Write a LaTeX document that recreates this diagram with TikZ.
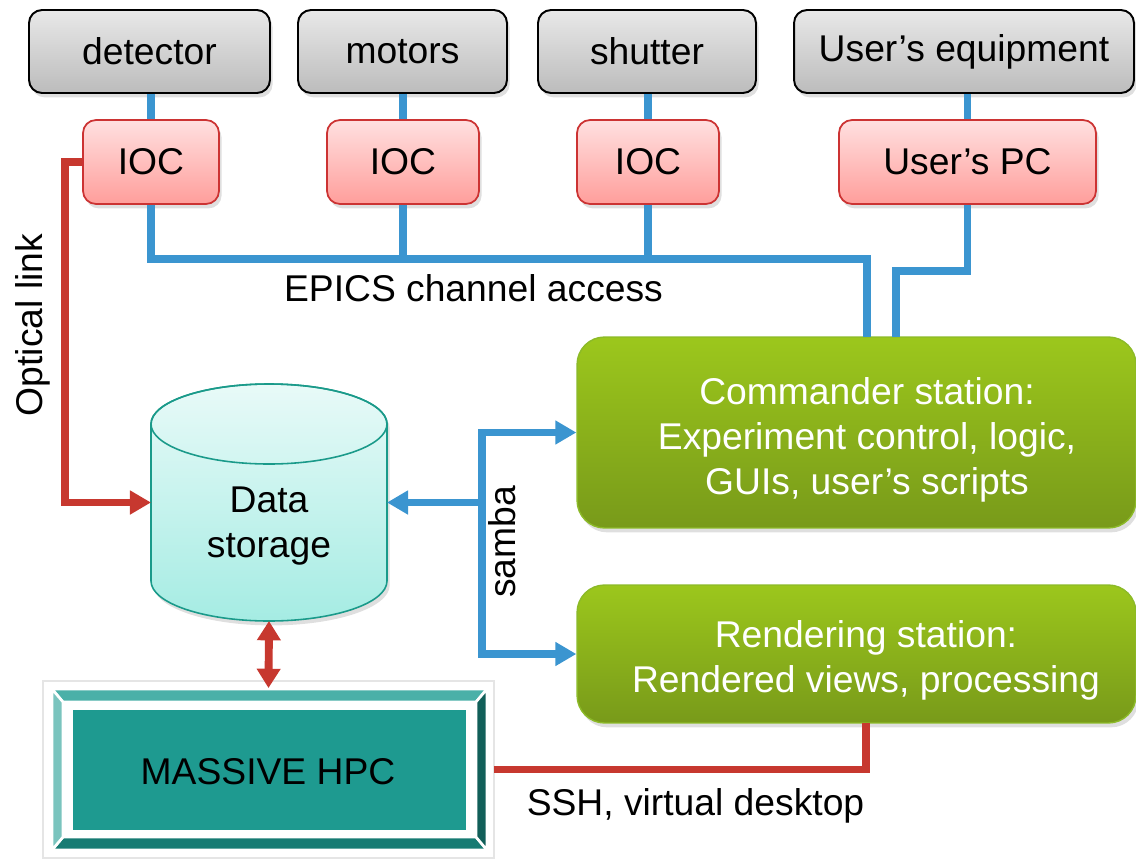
\documentclass[tikz,border=0pt]{standalone}
\usepackage{fontspec}
\setmainfont{Liberation Sans}
\usetikzlibrary{arrows.meta,shadows}
\definecolor{cblue}{RGB}{59,149,208}
\definecolor{cred}{RGB}{199,56,47}
\definecolor{graytop}{RGB}{232,232,232}
\definecolor{graybot}{RGB}{188,188,188}
\definecolor{ioctop}{RGB}{255,224,224}
\definecolor{iocbot}{RGB}{255,158,155}
\definecolor{iocborder}{RGB}{204,51,51}
\definecolor{greentop}{RGB}{156,199,28}
\definecolor{greenbot}{RGB}{120,154,26}
\definecolor{greenborder}{RGB}{140,186,40}
\definecolor{cyltop}{RGB}{232,250,248}
\definecolor{cylbot}{RGB}{165,236,227}
\definecolor{cylborder}{RGB}{26,154,138}
\definecolor{bevtop}{RGB}{74,176,168}
\definecolor{bevleft}{RGB}{122,196,190}
\definecolor{bevright}{RGB}{17,95,89}
\definecolor{bevbot}{RGB}{23,123,115}
\definecolor{hpcface}{RGB}{30,154,144}
\begin{document}
\begin{tikzpicture}[x=0.02cm,y=-0.02cm,
  font=\fontsize{21.2}{25.5}\selectfont,
  shade1/.style={drop shadow={shadow xshift=1.5pt,shadow yshift=-2.5pt,opacity=0.25}},
  graybox/.style={draw=black,line width=1.1pt,rounded corners=0.26cm,top color=graytop,bottom color=graybot,shade1,inner sep=0pt},
  iocbox/.style={draw=iocborder,line width=1pt,rounded corners=0.26cm,top color=ioctop,bottom color=iocbot,shade1,inner sep=0pt},
  greenbox/.style={draw=greenborder,line width=0.8pt,rounded corners=0.55cm,top color=greentop,bottom color=greenbot,shade1,inner sep=0pt},
  bl/.style={draw=cblue,line width=4pt},
  rl/.style={draw=cred,line width=4pt},
  tip/.style={-{Triangle[length=12pt,width=13pt]}},
  whitetext/.style={text=white,align=center},
  anchorbox/.style={inner sep=0pt,outer sep=0pt}
]
\useasboundingbox (0,0) rectangle (1136,859);

% top devices
\node[graybox,minimum width=4.82cm,minimum height=1.66cm] (det) at (149.5,51.5) {detector};
\node[graybox,minimum width=4.18cm,minimum height=1.66cm] (mot) at (402.5,51.5) {motors};
\node[graybox,minimum width=4.36cm,minimum height=1.66cm] (shu) at (647,51.5) {shutter};
\node[graybox,minimum width=6.8cm,minimum height=1.66cm] (ueq) at (964,51.5) {User’s equipment};

% IOCs
\node[iocbox,minimum width=2.72cm,minimum height=1.68cm] (ioc1) at (151,162) {IOC};
\node[iocbox,minimum width=3.04cm,minimum height=1.68cm] (ioc2) at (403,162) {IOC};
\node[iocbox,minimum width=2.84cm,minimum height=1.68cm] (ioc3) at (648,162) {IOC};
\node[iocbox,minimum width=5.14cm,minimum height=1.68cm] (pc) at (967.5,162) {User’s PC};

% stations
\node[greenbox,minimum width=11.18cm,minimum height=3.82cm] (comm) at (856.5,432.5) {};
\node[whitetext] (commtxt) at (867,440) {Commander station:\\Experiment control, logic,\\GUIs, user’s scripts};
\node[greenbox,minimum width=11.18cm,minimum height=2.76cm] (rend) at (856.5,654) {};
\node[whitetext] (rendtxt) at (866,660) {Rendering station:\\Rendered views, processing};

% data storage cylinder
\path[draw=cylborder,line width=0.9pt,top color=cyltop,bottom color=cylbot,shade1]
  (151,424) -- (151,581) arc[start angle=180,end angle=0,x radius=118,y radius=40]
  -- (387,424) arc[start angle=0,end angle=-180,x radius=118,y radius=40] -- cycle;
\draw[cylborder,line width=0.9pt] (269,424) ellipse[x radius=118,y radius=40];
\node[anchorbox,minimum width=4.72cm,minimum height=4.74cm] (ds) at (269,502.5) {};
\node[align=center] (dstxt) at (269,526) {Data\\storage};

% MASSIVE HPC
\node[anchorbox,minimum width=9.02cm,minimum height=3.54cm] (hpc) at (268.5,769.5) {};
\fill[white,draw=black!10,line width=0.6pt,drop shadow={shadow xshift=0.8pt,shadow yshift=-0.8pt,opacity=0.12}] (43,681) rectangle (494,858);
\filldraw[fill=bevtop,draw=white,line width=1.5pt] (52,689) -- (487,689) -- (476,702) -- (63,702) -- cycle;
\filldraw[fill=bevbot,draw=white,line width=1.5pt] (52,850) -- (487,850) -- (476,837) -- (63,837) -- cycle;
\filldraw[fill=bevleft,draw=white,line width=1.5pt] (52,689) -- (63,702) -- (63,837) -- (52,850) -- cycle;
\filldraw[fill=bevright,draw=white,line width=1.5pt] (487,689) -- (476,702) -- (476,837) -- (487,850) -- cycle;
\fill[hpcface] (73,710) rectangle (466,830);
\node (hpctxt) at (268,772) {MASSIVE HPC};

% device to IOC links
\draw[bl] (ioc1.north |- det.south) -- (ioc1.north);
\draw[bl] (ioc2.north |- mot.south) -- (ioc2.north);
\draw[bl] (ioc3.north |- shu.south) -- (ioc3.north);
\draw[bl] (pc.north |- ueq.south) -- (pc.north);

% EPICS bus
\coordinate (bus1) at (151,259);
\coordinate (cn1) at (867,337);
\coordinate (pcb) at (967.5,271);
\coordinate (cn2) at (896,337);
\draw[bl] (ioc1.south) -- (bus1) -| (cn1);
\draw[bl] (ioc2.south) -- (ioc2.south |- bus1);
\draw[bl] (ioc3.south) -- (ioc3.south |- bus1);
\draw[bl] (pc.south) -- (pcb) -| (cn2);
\node (epics) at (473.5,288) {EPICS channel access};

% optical link
\coordinate (ol) at (65,162);
\draw[rl,tip] (ioc1.west) -- (ol) |- (ds.west);
\node[rotate=90] (optlbl) at (33,325) {Optical link};

% samba
\coordinate (sj) at (482,502.5);
\draw[bl,tip] (sj) -- (ds.east);
\draw[bl,tip] (sj) |- (comm.west);
\draw[bl,tip] (sj) |- (rend.west);
\node[rotate=90] (sambalbl) at (502,542) {samba};

% HPC <-> storage
\draw[draw=cred,line width=4.5pt,{Triangle[length=11pt,width=13pt]}-{Triangle[length=11pt,width=13pt]}] (ds.south) -- ([yshift=-4pt]hpc.north);

% SSH
\coordinate (rb) at (866,723);
\draw[rl] (hpc.east) -| (rb);
\node (sshlbl) at (695.5,806) {SSH, virtual desktop};
\end{tikzpicture}
\end{document}
